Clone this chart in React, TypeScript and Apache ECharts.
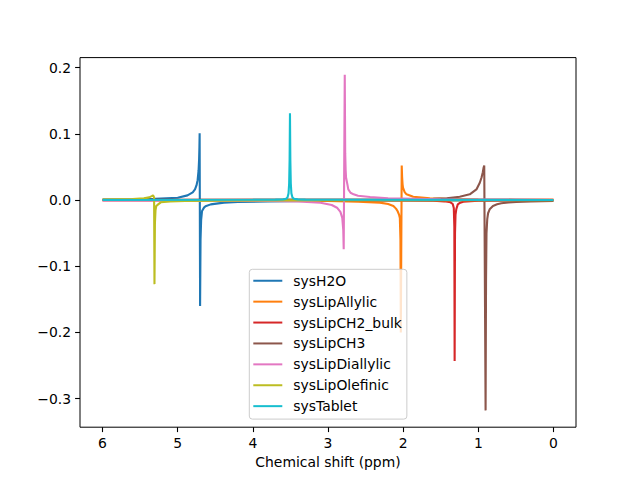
import React, { useEffect, useRef } from "react";
import * as echarts from "echarts";

const seriesNames = [
  "sysH2O",
  "sysLipAllylic",
  "sysLipCH2_bulk",
  "sysLipCH3",
  "sysLipDiallylic",
  "sysLipOlefinic",
  "sysTablet",
];
const seriesColors = ["#1f77b4", "#ff7f0e", "#d62728", "#8c564b", "#e377c2", "#bcbd22", "#17becf"];

const xTicks = [0, 1, 2, 3, 4, 5, 6];
const yTicks = [-0.3, -0.2, -0.1, 0, 0.1, 0.2];

// [chemical shift (ppm), signal]
const sysH2O = [
  [6.0, 0.0008], [5.6, 0.0012], [5.3, 0.0018], [5.0, 0.0035], [4.87, 0.007], [4.8, 0.0115],
  [4.77, 0.016], [4.75, 0.022], [4.735, 0.03], [4.722, 0.045], [4.715, 0.062], [4.711, 0.08],
  [4.708, 0.1006], [4.702, -0.16], [4.696, -0.06], [4.688, -0.03], [4.676, -0.0166], [4.65, -0.0115],
  [4.63, -0.0095], [4.56, -0.0066], [4.385, -0.004], [4.2, -0.003], [3.8, -0.002], [3.0, -0.0012],
  [2.0, -0.0008], [0.0, -0.0004],
];
const sysLipAllylic = [
  [6.0, -0.0003], [4.5, -0.0007], [3.5, -0.001], [3.0, -0.0015], [2.6, -0.0025], [2.31, -0.004],
  [2.2, -0.006], [2.13, -0.009], [2.095, -0.013], [2.075, -0.0166], [2.055, -0.022], [2.044, -0.027],
  [2.036, -0.06], [2.031, -0.2], [2.019, 0.052], [2.014, 0.035], [2.008, 0.024], [2.002, 0.0186],
  [1.98, 0.012], [1.955, 0.0086], [1.866, 0.005], [1.645, 0.0025], [1.42, 0.002], [1.0, 0.0012],
  [0.5, 0.0008], [0.0, 0.0006],
];
const sysLipCH2_bulk = [
  [6.0, -0.0002], [3.0, -0.0004], [2.0, -0.0007], [1.6, -0.0012], [1.45, -0.002], [1.37, -0.0035],
  [1.34, -0.006], [1.326, -0.012], [1.319, -0.04], [1.315, -0.243], [1.31, -0.05], [1.303, -0.022],
  [1.293, -0.014], [1.273, -0.0066], [1.24, -0.004], [1.2, -0.0025], [1.0, -0.0012], [0.5, -0.0005],
  [0.0, -0.0003],
];
const sysLipCH3 = [
  [6.0, 0.0003], [3.0, 0.0008], [2.0, 0.0012], [1.6, 0.0018], [1.42, 0.0025], [1.247, 0.005],
  [1.114, 0.0086], [1.025, 0.016], [0.98, 0.026], [0.957, 0.034], [0.94, 0.042], [0.929, 0.049],
  [0.921, 0.052], [0.903, -0.3176], [0.897, -0.12], [0.891, -0.05], [0.881, -0.029], [0.87, -0.02],
  [0.849, -0.014], [0.805, -0.009], [0.75, -0.0065], [0.694, -0.005], [0.6, -0.0037], [0.495, -0.003],
  [0.3, -0.002], [0.0, -0.0015],
];
const sysLipDiallylic = [
  [6.0, -0.0005], [4.0, -0.001], [3.4, -0.002], [3.1, -0.004], [2.95, -0.0075], [2.88, -0.0116],
  [2.835, -0.018], [2.81, -0.027], [2.797, -0.045], [2.791, -0.0744], [2.777, 0.189], [2.771, 0.07],
  [2.765, 0.045], [2.76, 0.034], [2.74, 0.0225], [2.73, 0.016], [2.7, 0.011], [2.66, 0.0086],
  [2.6, 0.0065], [2.44, 0.0045], [2.2, 0.0025], [1.5, 0.0012], [0.0, 0.0005],
];
const sysLipOlefinic = [
  [6.0, 0.0008], [5.6, 0.0015], [5.45, 0.0025], [5.38, 0.004], [5.345, 0.0058], [5.328, 0.0072],
  [5.32, 0.0075], [5.314, 0.004], [5.309, -0.127], [5.303, -0.035], [5.295, -0.015], [5.285, -0.009],
  [5.26, -0.0066], [5.225, -0.0035], [5.1, -0.0022], [4.9, -0.0015], [4.5, -0.001], [3.5, -0.0005],
  [0.0, -0.0002],
];
const sysTablet = [
  [6.0, 0.0001], [4.0, 0.0003], [3.7, 0.0006], [3.6, 0.001], [3.56, 0.0017], [3.54, 0.0035],
  [3.525, 0.01], [3.517, 0.025], [3.511, 0.06], [3.506, 0.131], [3.501, 0.06], [3.495, 0.025],
  [3.487, 0.01], [3.472, 0.0035], [3.45, 0.0017], [3.4, 0.001], [3.3, 0.0006], [3.0, 0.0003],
  [0.0, 0.0001],
];

const seriesData = [sysH2O, sysLipAllylic, sysLipCH2_bulk, sysLipCH3, sysLipDiallylic, sysLipOlefinic, sysTablet];

const FONT = "DejaVu Sans";
const FS = 13.9;

export default function App() {
  const ref = useRef<HTMLDivElement>(null);
  useEffect(() => {
    if (!ref.current) return;
    const chart = echarts.init(ref.current, undefined, { renderer: "svg" });
    chart.setOption({
      animation: false,
      backgroundColor: "#ffffff",
      textStyle: { fontFamily: FONT },
      grid: {
        left: 80,
        top: 57.6,
        width: 496,
        height: 369.6,
        show: true,
        borderColor: "#000000",
        borderWidth: 1,
        backgroundColor: "transparent",
        containLabel: false,
      },
      xAxis: {
        type: "value",
        inverse: true,
        min: -0.3,
        max: 6.3,
        position: "bottom",
        name: "Chemical shift (ppm)",
        nameLocation: "middle",
        nameGap: 27,
        nameTextStyle: { color: "#000", fontSize: FS, fontFamily: FONT },
        axisLine: { show: false, onZero: false },
        axisTick: {
          show: true,
          customValues: xTicks,
          length: 4.9,
          lineStyle: { color: "#000", width: 1.1 },
        },
        axisLabel: {
          customValues: xTicks,
          color: "#000",
          fontSize: FS,
          fontFamily: FONT,
          margin: 9,
          formatter: (v: number) => String(Math.round(v)),
        },
        splitLine: { show: false },
      },
      yAxis: {
        type: "value",
        min: -0.343,
        max: 0.215,
        position: "left",
        axisLine: { show: false, onZero: false },
        axisTick: {
          show: true,
          customValues: yTicks,
          length: 4.9,
          lineStyle: { color: "#000", width: 1.1 },
        },
        axisLabel: {
          customValues: yTicks,
          color: "#000",
          fontSize: FS,
          fontFamily: FONT,
          margin: 9,
          formatter: (v: number) => (v < -1e-9 ? "\u2212" : "") + Math.abs(v).toFixed(1),
        },
        splitLine: { show: false },
      },
      legend: {
        orient: "vertical",
        left: 249.3,
        top: 269.3,
        padding: [1, 5, 2.5, 4],
        itemGap: 0,
        itemWidth: 29,
        itemHeight: 2,
        icon: "rect",
        backgroundColor: "rgba(255,255,255,0.8)",
        borderColor: "#cccccc",
        borderWidth: 1,
        borderRadius: 3,
        data: seriesNames,
        textStyle: {
          color: "#000",
          fontSize: FS,
          fontFamily: FONT,
          lineHeight: 20.9,
          padding: [0, 0, 0, 6],
        },
      },
      series: seriesNames.map((name, i) => ({
        name,
        type: "line",
        data: seriesData[i],
        symbol: "none",
        showSymbol: false,
        color: seriesColors[i],
        lineStyle: { color: seriesColors[i], width: 2.1 },
        itemStyle: { color: seriesColors[i] },
        clip: true,
        z: 2,
      })),
    });
    return () => chart.dispose();
  }, []);
  return (
    <div
      ref={ref}
      style={{ position: "absolute", left: 0, top: 0, width: 640, height: 480, background: "#fff" }}
    />
  );
}
